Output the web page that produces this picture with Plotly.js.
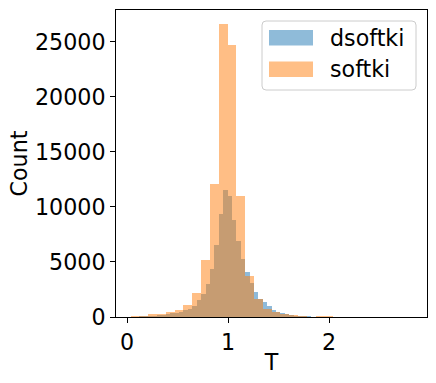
<!DOCTYPE html>
<html>
<head>
<meta charset="utf-8">
<script src="https://cdn.plot.ly/plotly-3.0.1.min.js"></script>
<style>
  html, body { margin: 0; padding: 0; background: #ffffff; }
  #chart { width: 436px; height: 383px; }
</style>
</head>
<body>
<div id="chart"></div>
<script>
// histogram bins: both start at the same left edge, dsoftki bins are half as wide
const binStart = 0.035;
const softkiBinWidth = 0.0873;
const dsoftkiBinWidth = softkiBinWidth / 2;

const seriesNames = ['dsoftki', 'softki'];

const dsoftkiCounts = [
  20, 30, 50, 60, 80, 110, 160, 190, 280, 330,
  390, 480, 630, 720, 1000, 1500, 2050, 2960, 4350, 6560,
  9370, 11550, 11010, 8830, 6860, 5260, 4110, 3100, 2310, 1640,
  1330, 1030, 620, 500, 350, 260, 180, 120, 90, 70,
  50, 40, 30, 25, 20, 15, 12, 10, 8, 6,
  5, 4, 4, 3, 3, 2, 2, 2, 1, 1,
  1, 1, 0, 1
];

const softkiCounts = [
  50, 120, 240, 300, 420, 600, 1050, 2200, 5200, 12100,
  26600, 24740, 11000, 3750, 1630, 730, 420, 270, 150, 120,
  30, 50, 50, 30
];

const xTicks = [0, 1, 2];
const yTicks = [0, 5000, 10000, 15000, 20000, 25000];

const blue = '#1f77b4';
const orange = '#ff7f0e';
const fontFamily = '"DejaVu Sans", Verdana, sans-serif';
const fontSize = 22.2;

function binCenters(counts, width) {
  return counts.map((_, i) => binStart + (i + 0.5) * width);
}

function histTrace(name, counts, width, color) {
  return {
    type: 'bar',
    name: name,
    x: binCenters(counts, width),
    y: counts,
    width: counts.map(() => width),
    opacity: 0.5,
    marker: { color: color, line: { width: 0 } },
    hoverinfo: 'skip'
  };
}

// plot area in pixels, used to place the hand drawn legend
const plotLeft = 116;
const plotRight = 427;
const plotTop = 10;
const plotBottom = 317;

function px(x) {
  return (x - plotLeft) / (plotRight - plotLeft);
}

function py(y) {
  return (plotBottom - y) / (plotBottom - plotTop);
}

function roundedRect(x0, y0, x1, y1, r) {
  const X0 = px(x0), X1 = px(x1), Y0 = py(y0), Y1 = py(y1);
  const rx = r / (plotRight - plotLeft);
  const ry = r / (plotBottom - plotTop);
  return `M ${X0 + rx} ${Y0} L ${X1 - rx} ${Y0} Q ${X1} ${Y0} ${X1} ${Y0 - ry} ` +
    `L ${X1} ${Y1 + ry} Q ${X1} ${Y1} ${X1 - rx} ${Y1} ` +
    `L ${X0 + rx} ${Y1} Q ${X0} ${Y1} ${X0} ${Y1 + ry} ` +
    `L ${X0} ${Y0 - ry} Q ${X0} ${Y0} ${X0 + rx} ${Y0} Z`;
}

const legendRows = [
  { name: seriesNames[0], color: '#8fbbd9', top: 30, bottom: 45.5 },
  { name: seriesNames[1], color: '#ffbf86', top: 61.5, bottom: 77 }
];

const shapes = [
  {
    type: 'path',
    xref: 'paper',
    yref: 'paper',
    path: roundedRect(262, 21, 416, 90, 4),
    fillcolor: 'rgba(255,255,255,0.8)',
    line: { color: '#cccccc', width: 1 }
  }
].concat(legendRows.map((row) => ({
  type: 'rect',
  xref: 'paper',
  yref: 'paper',
  x0: px(269),
  x1: px(313),
  y0: py(row.bottom),
  y1: py(row.top),
  fillcolor: row.color,
  line: { width: 0 }
})));

const annotations = legendRows.map((row) => ({
  xref: 'paper',
  yref: 'paper',
  x: px(328),
  y: py((row.top + row.bottom) / 2),
  xanchor: 'left',
  yanchor: 'middle',
  text: row.name,
  showarrow: false,
  font: { family: fontFamily, size: fontSize, color: '#000000' }
}));

const axisCommon = {
  showline: true,
  mirror: true,
  linecolor: '#000000',
  linewidth: 1,
  ticks: 'outside',
  ticklen: 5,
  tickwidth: 1,
  tickcolor: '#000000',
  showgrid: false,
  zeroline: false,
  automargin: true,
  tickfont: { family: fontFamily, size: fontSize, color: '#000000' },
  tickformat: 'd'
};

const data = [
  histTrace(seriesNames[0], dsoftkiCounts, dsoftkiBinWidth, blue),
  histTrace(seriesNames[1], softkiCounts, softkiBinWidth, orange)
];

const layout = {
  width: 436,
  height: 383,
  margin: { l: plotLeft, r: 436 - plotRight, t: plotTop, b: 383 - plotBottom, pad: 0 },
  paper_bgcolor: '#ffffff',
  plot_bgcolor: '#ffffff',
  barmode: 'overlay',
  bargap: 0,
  showlegend: false,
  font: { family: fontFamily, size: fontSize, color: '#000000' },
  xaxis: Object.assign({}, axisCommon, {
    range: [-0.109, 2.97],
    tickvals: xTicks,
    title: { text: 'T', font: { family: fontFamily, size: fontSize, color: '#000000' }, standoff: 0 }
  }),
  yaxis: Object.assign({}, axisCommon, {
    range: [0, 27885],
    tickvals: yTicks,
    title: { text: 'Count', font: { family: fontFamily, size: fontSize, color: '#000000' }, standoff: 1 }
  }),
  shapes: shapes,
  annotations: annotations
};

Plotly.newPlot('chart', data, layout, { staticPlot: true, displayModeBar: false });
</script>
</body>
</html>
